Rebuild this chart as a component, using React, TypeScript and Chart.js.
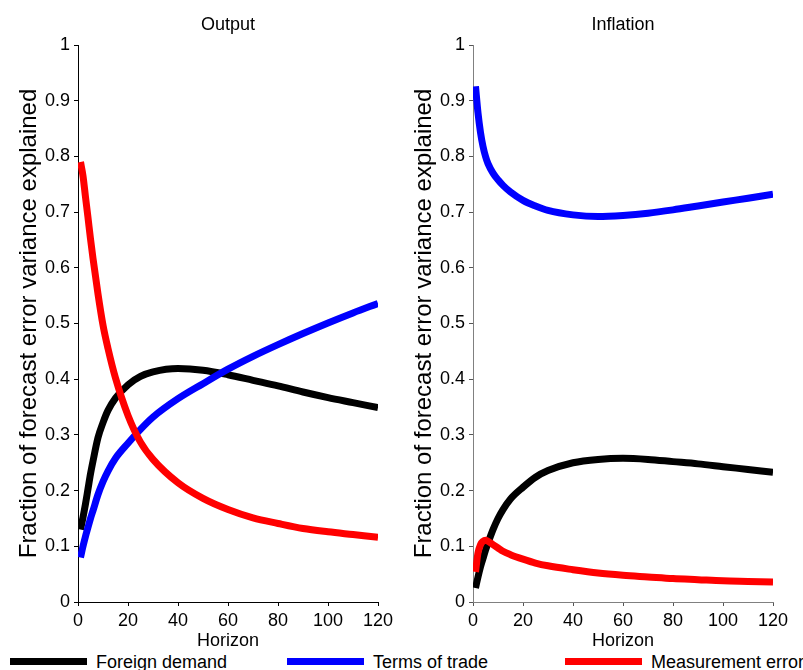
import React, { useEffect, useRef } from 'react';
import { Chart, registerables } from 'chart.js';

Chart.register(...registerables);

// ---------- data ----------
const horizons = [1, 2, 3, 4, 5, 6, 8, 10, 12, 15, 20, 25, 30, 40, 50, 60, 70, 80, 90, 100, 110, 120];

const outputForeignDemand = [0.13, 0.152, 0.176, 0.203, 0.23, 0.253, 0.295, 0.322, 0.344, 0.366, 0.39, 0.405, 0.413, 0.419, 0.416, 0.408, 0.398, 0.388, 0.377, 0.367, 0.358, 0.349];
const outputTermsOfTrade = [0.08, 0.1, 0.118, 0.134, 0.15, 0.164, 0.193, 0.216, 0.235, 0.258, 0.285, 0.31, 0.332, 0.365, 0.392, 0.418, 0.441, 0.462, 0.482, 0.501, 0.519, 0.536];
const outputMeasurementError = [0.79, 0.765, 0.727, 0.69, 0.652, 0.617, 0.553, 0.497, 0.455, 0.402, 0.335, 0.287, 0.256, 0.214, 0.186, 0.166, 0.151, 0.141, 0.132, 0.126, 0.121, 0.116];

const inflationForeignDemand = [0.025, 0.045, 0.063, 0.078, 0.093, 0.106, 0.13, 0.15, 0.166, 0.185, 0.206, 0.224, 0.236, 0.25, 0.256, 0.258, 0.256, 0.252, 0.248, 0.243, 0.238, 0.233];
const inflationTermsOfTrade = [0.926, 0.878, 0.843, 0.818, 0.8, 0.787, 0.77, 0.758, 0.748, 0.736, 0.721, 0.711, 0.703, 0.695, 0.692, 0.694, 0.698, 0.704, 0.711, 0.718, 0.725, 0.732];
const inflationMeasurementError = [0.054, 0.088, 0.103, 0.109, 0.111, 0.109, 0.103, 0.097, 0.091, 0.085, 0.077, 0.07, 0.065, 0.058, 0.052, 0.048, 0.045, 0.042, 0.04, 0.038, 0.037, 0.036];

const seriesLabels = ['Foreign demand', 'Terms of trade', 'Measurement error'];
const seriesColors = ['#000000', '#0000ff', '#ff0000'];
const panelTitles = ['Output', 'Inflation'];
const yAxisTitle = 'Fraction of forecast error variance explained';
const xAxisTitle = 'Horizon';

const FONT = '"Liberation Sans", Arial, Helvetica, sans-serif';

type PanelProps = {
  title: string;
  series: number[][];
  left: number;
  width: number;
  axisColor: string;
  tickColor: string;
};

function Panel({ title, series, left, width, axisColor, tickColor }: PanelProps) {
  const ref = useRef<HTMLCanvasElement | null>(null);
  useEffect(() => {
    if (!ref.current) return;
    const orders = [3, 2, 1];
    const chart = new Chart(ref.current, {
      type: 'line',
      data: {
        datasets: series.map((vals, si) => ({
          label: seriesLabels[si],
          data: horizons.map((h, i) => ({ x: h, y: vals[i] })),
          borderColor: seriesColors[si],
          backgroundColor: seriesColors[si],
          borderWidth: 7,
          pointRadius: 0,
          fill: false,
          cubicInterpolationMode: 'monotone' as const,
          borderJoinStyle: 'round' as const,
          borderCapStyle: 'butt' as const,
          order: orders[si],
        })),
      },
      options: {
        responsive: false,
        maintainAspectRatio: false,
        animation: false,
        layout: { padding: { left: 0, right: width - 378, top: 0, bottom: 0 } },
        plugins: {
          legend: { display: false },
          tooltip: { enabled: false },
          title: {
            display: true,
            text: title,
            fullSize: false,
            color: '#000',
            font: { family: FONT, size: 18, weight: 'normal' },
            padding: { top: 14, bottom: 9.4 },
          },
        },
        scales: {
          x: {
            type: 'linear',
            min: 0,
            max: 120,
            ticks: {
              stepSize: 20,
              color: '#000',
              font: { family: FONT, size: 18 },
              padding: 4,
              maxRotation: 0,
              autoSkip: false,
            },
            grid: { drawOnChartArea: false, drawTicks: true, tickLength: 4, color: tickColor },
            border: { display: true, color: axisColor, width: 1 },
            title: {
              display: true,
              text: xAxisTitle,
              color: '#000',
              font: { family: FONT, size: 18 },
              padding: { top: 0, bottom: 0 },
            },
            afterFit: (s: any) => {
              s.height = 50;
            },
          },
          y: {
            type: 'linear',
            min: 0,
            max: 1,
            ticks: {
              stepSize: 0.1,
              color: '#000',
              font: { family: FONT, size: 18 },
              padding: 4,
              callback: (v: any) => String(Math.round(Number(v) * 10) / 10),
            },
            grid: { drawOnChartArea: false, drawTicks: true, tickLength: 4, color: tickColor },
            border: { display: true, color: axisColor, width: 1 },
            title: {
              display: true,
              text: yAxisTitle,
              color: '#000',
              font: { family: FONT, size: 24 },
              padding: { top: 15, bottom: 0 },
            },
            afterFit: (s: any) => {
              s.width = 78;
            },
          },
        },
      } as any,
    });
    return () => chart.destroy();
  }, []);
  return (
    <canvas
      ref={ref}
      width={width}
      height={652}
      style={{ position: 'absolute', left, top: 0, width, height: 652, display: 'block' }}
    />
  );
}

const legendLeft = [10, 287, 565];

export default function App() {
  return (
    <div
      style={{
        position: 'absolute',
        left: 0,
        top: 0,
        width: 803,
        height: 670,
        overflow: 'hidden',
        background: '#fff',
      }}
    >
      <Panel
        title={panelTitles[0]}
        series={[outputForeignDemand, outputTermsOfTrade, outputMeasurementError]}
        left={0}
        width={400}
        axisColor="#000"
        tickColor="#000"
      />
      <Panel
        title={panelTitles[1]}
        series={[inflationForeignDemand, inflationTermsOfTrade, inflationMeasurementError]}
        left={395}
        width={408}
        axisColor="#808080"
        tickColor="#555"
      />
      {seriesLabels.map((lab, i) => (
        <div key={lab}>
          <div
            style={{
              position: 'absolute',
              left: legendLeft[i],
              top: 658,
              width: 77,
              height: 7,
              background: seriesColors[i],
            }}
          />
          <div
            style={{
              position: 'absolute',
              left: legendLeft[i] + 86,
              top: 653,
              font: `18px ${FONT}`,
              lineHeight: '18px',
              color: '#000',
              whiteSpace: 'nowrap',
            }}
          >
            {lab}
          </div>
        </div>
      ))}
    </div>
  );
}
